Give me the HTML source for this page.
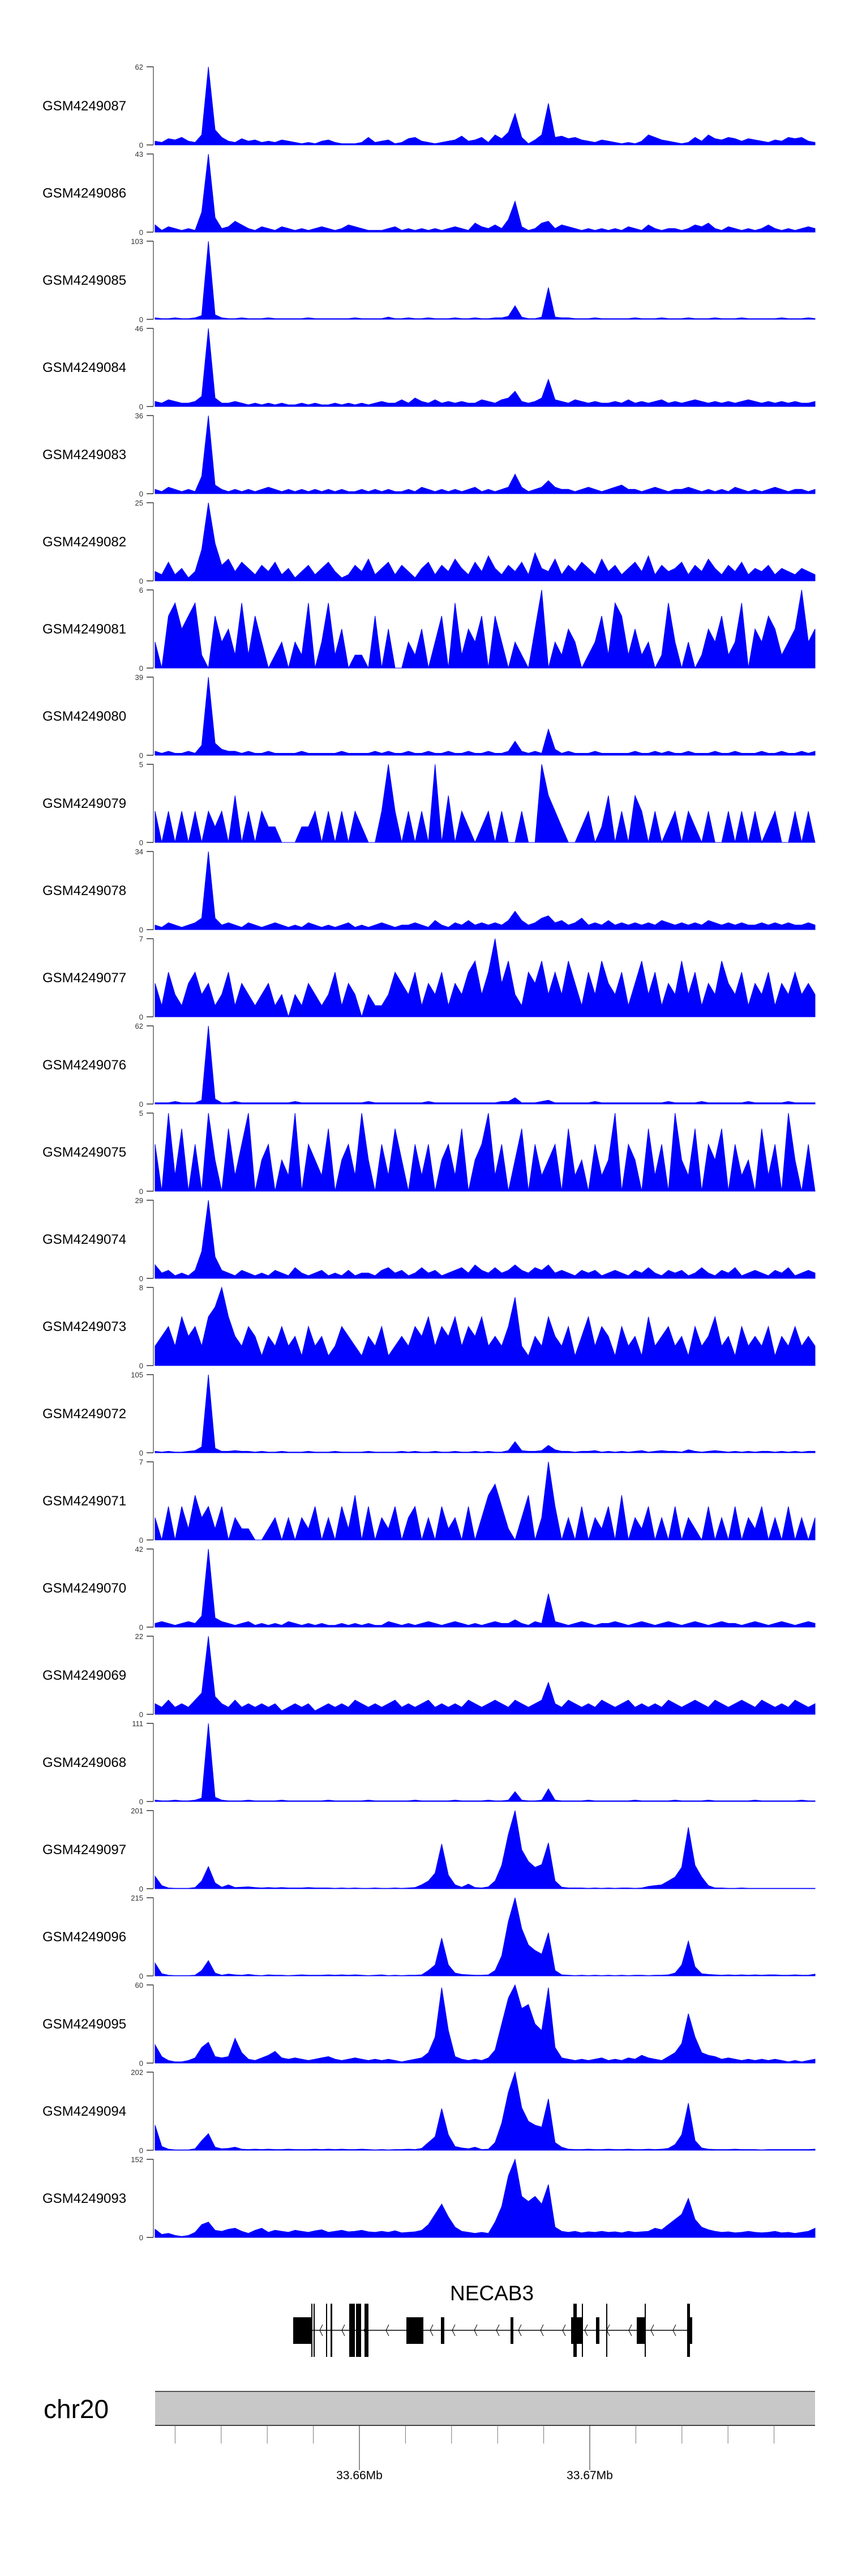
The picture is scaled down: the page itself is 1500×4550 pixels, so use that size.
<!DOCTYPE html>
<html><head><meta charset="utf-8"><style>
html,body{margin:0;padding:0;background:#fff;}
svg{display:block;font-family:"Liberation Sans",sans-serif;}
</style></head><body>
<svg id="chart" width="1500" height="4550" viewBox="0 0 1500 4550" xmlns="http://www.w3.org/2000/svg">
<g id="tracks"></g>
<g id="gene">
  <text x="869" y="4063" font-size="37" text-anchor="middle">NECAB3</text>
</g>
<g id="ideo">
  <text x="77" y="4271" font-size="46">chr20</text>
  <rect x="274" y="4224" width="1166" height="60" fill="#c8c8c8"/>
  <line x1="274" y1="4224" x2="1440" y2="4224" stroke="#555" stroke-width="2"/>
  <line x1="274" y1="4284" x2="1440" y2="4284" stroke="#444" stroke-width="2"/>
</g>
</svg>
<script>
const trackNames = ["GSM4249087","GSM4249086","GSM4249085","GSM4249084","GSM4249083","GSM4249082","GSM4249081","GSM4249080","GSM4249079","GSM4249078","GSM4249077","GSM4249076","GSM4249075","GSM4249074","GSM4249073","GSM4249072","GSM4249071","GSM4249070","GSM4249069","GSM4249068","GSM4249097","GSM4249096","GSM4249095","GSM4249094","GSM4249093"];
const trackMax = [62,43,103,46,36,25,6,39,5,34,7,62,5,29,8,105,7,42,22,111,201,215,60,202,152];
const s087 = [3,2,5,4,6,3,2,8,62,12,6,3,2,5,3,4,2,3,2,4,3,2,1,2,1,3,4,2,1,1,1,2,6,2,3,4,1,2,5,6,3,2,1,2,3,4,7,3,4,6,2,8,5,10,25,6,1,4,8,33,6,7,5,6,4,3,2,4,3,2,1,2,1,3,8,6,4,3,2,1,2,6,3,8,5,4,6,5,3,5,4,3,2,4,3,6,5,6,3,2];
const s086 = [4,1,3,2,1,2,1,11,43,8,2,3,6,4,2,1,3,2,1,3,2,1,2,1,2,3,2,1,2,4,3,2,1,1,1,2,3,1,2,1,2,1,2,1,2,3,2,1,5,3,2,4,2,7,17,3,1,2,5,6,2,4,3,2,1,2,1,2,1,2,1,3,2,1,4,2,1,2,2,1,2,4,3,5,2,1,3,2,1,2,1,2,4,2,1,2,1,2,3,2];
const s085 = [2,1,1,2,1,1,2,5,103,6,2,1,1,2,1,1,1,2,1,1,1,1,1,2,1,1,1,1,1,1,2,1,1,1,1,3,1,1,2,1,1,2,1,1,1,2,1,1,2,1,1,2,2,4,18,3,1,1,3,42,3,2,2,1,1,1,2,1,1,1,1,1,2,1,1,1,2,1,1,1,2,1,1,1,2,1,1,1,2,1,1,1,1,1,2,1,1,1,2,1];
const s084 = [3,2,4,3,2,2,3,6,46,5,2,2,3,2,1,2,1,2,1,2,1,1,2,1,2,1,1,2,1,2,1,2,1,2,3,2,2,4,2,5,3,2,4,2,3,2,3,2,2,4,3,2,4,5,9,3,2,3,5,16,4,3,2,4,3,2,3,2,2,3,2,4,2,3,2,3,4,2,3,2,3,4,3,2,3,2,3,2,3,4,3,2,3,2,3,2,3,2,2,3];
const s083 = [2,1,3,2,1,2,1,8,36,4,2,1,2,1,2,1,2,3,2,1,2,1,2,1,2,1,2,1,2,1,1,2,1,2,1,2,1,1,2,1,3,2,1,2,1,2,1,2,3,1,2,1,2,3,9,3,1,2,3,6,3,2,2,1,2,3,2,1,2,3,4,2,2,1,2,3,2,1,2,2,3,2,1,2,1,2,1,3,2,1,2,1,2,3,2,1,2,2,1,2];
const s082 = [3,2,6,2,4,1,3,10,25,12,5,7,3,6,4,2,5,3,6,2,4,1,3,5,2,4,6,3,1,2,5,3,7,2,4,6,2,5,3,1,4,6,2,5,3,7,4,2,6,3,8,4,2,5,3,6,2,9,4,3,7,2,5,3,6,4,2,7,3,5,2,4,6,3,8,2,5,3,4,6,2,5,3,7,4,2,5,3,6,2,4,3,5,2,4,3,2,4,3,2];
const s081 = [2,0,4,5,3,4,5,1,0,4,2,3,1,5,1,4,2,0,1,2,0,2,1,5,0,2,5,1,3,0,1,1,0,4,0,3,0,0,2,1,3,0,2,4,0,5,1,3,2,4,0,4,2,0,2,1,0,3,6,0,2,1,3,2,0,1,2,4,1,5,4,1,3,1,2,0,1,5,2,0,2,0,1,3,2,4,1,2,5,0,3,2,4,3,1,2,3,6,2,3];
const s080 = [2,1,2,1,1,2,1,5,39,6,3,2,2,1,2,1,1,2,1,1,1,1,2,1,1,1,1,1,2,1,1,1,1,2,1,2,1,1,2,1,1,2,1,1,2,1,1,2,1,1,2,1,1,2,7,2,1,2,1,13,3,1,2,1,1,1,2,1,1,1,1,1,2,1,1,2,1,2,1,1,2,1,1,1,2,1,1,2,1,1,1,2,1,1,2,1,1,2,1,2];
const s079 = [2,0,2,0,2,0,2,0,2,1,2,0,3,0,2,0,2,1,1,0,0,0,1,1,2,0,2,0,2,0,2,1,0,0,2,5,2,0,2,0,2,0,5,0,3,0,2,1,0,1,2,0,2,0,0,2,0,0,5,3,2,1,0,0,1,2,0,1,3,0,2,0,3,2,0,2,0,1,2,0,2,1,0,2,0,0,2,0,2,0,2,0,1,2,0,0,2,0,2,0];
const s078 = [2,1,3,2,1,2,3,5,34,5,2,3,2,1,3,2,1,2,3,2,1,2,1,3,2,1,2,1,2,3,1,2,1,2,3,2,1,2,2,3,2,1,4,2,1,3,2,4,2,3,2,3,2,4,8,4,2,3,5,6,3,4,2,3,5,2,3,2,4,2,3,2,3,2,3,2,4,3,2,3,2,3,2,4,3,2,3,2,3,2,2,3,2,3,2,3,2,2,3,2];
const s077 = [3,1,4,2,1,3,4,2,3,1,2,4,1,3,2,1,2,3,1,2,0,2,1,3,2,1,2,4,1,3,2,0,2,1,1,2,4,3,2,4,1,3,2,4,1,3,2,4,5,2,4,7,3,5,2,1,4,3,5,2,4,2,5,3,1,4,2,5,3,2,4,1,3,5,2,4,1,3,2,5,2,4,1,3,2,5,3,2,4,1,3,2,4,1,3,2,4,2,3,2];
const s076 = [1,1,1,2,1,1,1,3,62,4,1,1,2,1,1,1,1,1,1,1,1,2,1,1,1,1,1,1,1,1,1,1,2,1,1,1,1,1,1,1,1,2,1,1,1,1,1,1,1,1,1,1,2,2,5,1,1,1,2,3,1,1,1,1,1,1,2,1,1,1,1,1,1,1,1,1,1,2,1,1,1,1,2,1,1,1,1,1,1,2,1,1,1,1,1,2,1,1,1,1];
const s075 = [3,0,5,1,4,0,3,0,5,2,0,4,1,3,5,0,2,3,0,2,1,5,0,3,2,1,4,0,2,3,1,5,2,0,3,1,4,2,0,3,1,3,0,2,3,1,4,0,2,3,5,1,3,0,2,4,0,3,1,2,3,0,4,1,2,0,3,1,2,5,0,3,2,0,4,1,3,0,5,2,1,4,0,3,2,4,0,3,1,2,0,4,1,3,0,5,2,0,3,0];
const s074 = [5,2,3,1,2,1,3,10,29,8,3,2,1,3,2,1,2,1,3,2,1,4,2,1,2,3,1,2,1,3,1,2,2,1,3,4,2,3,1,2,4,2,3,1,2,3,4,2,5,3,2,4,2,3,5,3,2,4,3,5,2,3,2,1,3,2,3,1,2,3,2,1,3,2,4,2,1,3,2,3,1,2,4,2,1,3,2,4,1,2,3,2,1,3,2,4,1,2,3,2];
const s073 = [2,3,4,2,5,3,4,2,5,6,8,5,3,2,4,3,1,3,2,4,2,3,1,4,2,3,1,2,4,3,2,1,3,2,4,1,2,3,2,4,3,5,2,4,3,5,2,4,3,5,2,3,2,4,7,2,1,3,2,5,3,2,4,1,3,5,2,4,3,1,4,2,3,1,5,2,3,4,2,3,1,4,2,3,5,2,3,1,4,2,3,2,4,1,3,2,4,2,3,2];
const s072 = [2,1,2,1,1,2,3,8,105,6,2,2,3,2,2,1,2,1,1,2,1,1,1,2,1,1,1,2,1,1,1,1,2,1,1,1,1,2,1,2,1,1,2,1,1,2,1,1,2,1,2,1,1,3,15,3,2,2,3,10,4,2,2,1,2,2,3,1,2,1,2,1,2,3,1,2,3,2,2,1,4,2,1,2,3,2,1,2,1,2,1,2,2,1,2,1,2,1,2,2];
const s071 = [2,0,3,0,3,1,4,2,3,1,3,0,2,1,1,0,0,1,2,0,2,0,2,1,3,0,2,0,3,1,4,0,3,0,2,1,3,0,2,3,0,2,0,3,1,2,0,3,0,2,4,5,3,1,0,2,4,0,2,7,3,0,2,0,3,0,2,1,3,0,4,0,2,1,3,0,2,0,3,0,2,1,0,3,0,2,0,3,0,2,1,3,0,2,0,3,0,2,0,2];
const s070 = [2,3,2,1,2,3,2,6,42,5,3,2,1,2,3,1,2,1,2,1,3,2,1,2,1,2,1,1,2,1,2,1,2,1,1,3,2,1,2,1,2,3,2,1,2,3,2,1,2,1,2,3,2,2,4,2,1,3,2,18,3,2,1,2,3,2,1,2,2,3,2,1,2,3,2,1,2,3,2,1,2,3,2,1,2,3,2,2,1,2,3,2,1,2,3,2,1,2,3,2];
const s069 = [3,2,4,2,3,2,4,6,22,5,3,2,4,2,3,2,3,2,3,1,2,3,2,3,1,2,3,2,3,2,4,3,2,3,2,3,4,2,3,2,3,4,2,3,2,3,2,4,3,2,3,4,3,2,4,3,2,3,4,9,3,2,4,3,2,3,2,4,3,2,3,4,2,3,2,3,2,4,3,2,3,4,3,2,4,3,2,3,4,3,2,4,3,2,3,2,4,3,2,3];
const s068 = [2,1,1,2,1,1,2,5,111,6,2,1,1,1,2,1,1,1,1,2,1,1,1,1,1,1,2,1,1,1,1,1,2,1,1,1,1,1,1,2,1,1,1,1,1,2,1,1,1,1,2,1,1,2,14,2,1,1,2,18,2,1,1,1,1,2,1,1,1,1,1,1,2,1,1,1,1,1,2,1,1,1,1,2,1,1,1,1,1,1,2,1,1,1,1,1,1,2,1,1];
const s097 = [32,8,2,1,1,1,3,20,57,15, 4,10,3,4,5,3,2,3,2,3, 2,2,2,3,2,2,2,1,2,1, 2,1,1,2,1,1,2,1,2,3, 10,20,40,115,35,10,4,12,3,2, 5,20,60,140,201,100,70,55,62,118, 20,4,2,2,2,1,2,1,2,1, 2,2,1,2,6,8,10,20,30,55, 158,60,30,8,2,2,1,1,2,1, 1,1,1,1,1,1,1,1,1,1];
const s096 = [35,6,2,1,1,1,2,15,42,8, 2,5,3,2,4,2,1,3,2,2, 1,2,3,2,2,2,3,2,3,2, 3,2,1,2,3,1,2,1,2,2, 3,15,30,104,30,8,4,3,2,2, 3,15,55,150,215,130,85,70,60,119, 15,3,2,1,2,1,2,1,2,1, 2,1,2,2,1,2,2,3,8,30, 96,25,6,4,3,2,3,2,3,2, 3,2,3,3,2,2,3,2,2,5];
const s095 = [14,5,2,1,1,2,4,12,16,5, 4,5,19,8,3,2,4,6,9,4, 3,4,3,2,3,4,5,3,2,3, 4,3,2,3,2,3,2,1,2,3, 4,8,20,58,25,5,3,2,3,2, 4,10,30,50,60,42,45,30,25,58, 12,4,3,2,3,2,3,4,2,3, 2,4,3,6,4,3,2,5,8,15, 38,20,8,6,5,3,4,3,2,3, 2,3,2,3,2,1,2,1,2,3];
const s094 = [65,10,3,1,1,1,4,25,43,8, 4,5,8,3,2,3,2,3,2,2, 3,2,2,2,3,2,3,2,3,2, 2,3,2,1,2,1,2,2,3,2, 5,20,35,108,40,10,6,4,8,2, 3,20,70,150,202,110,75,65,60,133, 20,8,3,2,2,3,2,2,3,2, 2,3,2,2,3,2,3,5,15,40, 122,25,6,3,2,2,2,3,2,2, 2,1,2,2,2,2,2,2,2,3];
const s093 = [16,6,8,4,2,4,10,25,30,14, 12,16,18,12,8,14,18,10,14,12, 10,14,12,10,13,15,10,12,14,11, 12,14,11,10,12,10,13,9,10,11, 14,25,45,65,40,20,12,10,8,10, 8,30,60,120,152,80,70,80,65,103, 20,12,10,12,9,11,10,12,10,11, 9,12,10,11,12,18,15,25,35,45, 76,35,20,15,12,10,11,9,10,12, 10,9,10,12,9,10,8,10,12,18];
const trackSeries = [s087,s086,s085,s084,s083,s082,s081,s080,s079,s078,s077,s076,s075,s074,s073,s072,s071,s070,s069,s068,s097,s096,s095,s094,s093];
const axisTicksKb = [33652,33654,33656,33658,33660,33662,33664,33666,33668,33670,33672,33674,33676,33678];
const majorTicksKb = [33660,33670];
const majorTickLabels = ["33.66Mb","33.67Mb"];

const NS = "http://www.w3.org/2000/svg";
const X0 = 274, X1 = 1440, TOP0 = 118, PITCH = 154, H = 138;
function mk(tag, attrs, parent){const e=document.createElementNS(NS,tag);for(const k in attrs)e.setAttribute(k,attrs[k]);parent.appendChild(e);return e;}
const tracksG = document.getElementById('tracks');
trackSeries.forEach((vals, t) => {
  const top = TOP0 + t*PITCH, base = top + H, mx = trackMax[t];
  const g = mk('g', {}, tracksG);
  
  
  const xs = i => X0 + i*(X1-X0)/(vals.length-1);
  const ys = v => base - Math.min(v,mx)/mx*H;
  const lab = mk('text', {x:75, y:top+H/2+8, 'font-size':24}, g);
  lab.textContent = trackNames[t];
  
  
  const ax = mk('line', {x1:271, y1:top, x2:271, y2:base, stroke:'#8a8a8a', 'stroke-width':2}, g);
  
  
  [[top, String(mx)], [base, '0']].forEach(([y, s]) => {
    const tk = mk('line', {x1:259, y1:y, x2:271, y2:y, stroke:'#333', 'stroke-width':1.5}, g);
    
    
    const tl = mk('text', {x:253, y:y+5, 'font-size':13, 'text-anchor':'end', fill:'#333'}, g);
    tl.textContent = s;
    
    
  });
  let d = 'M' + X0 + ',' + base;
  vals.forEach((v, i) => { d += 'L' + xs(i).toFixed(1) + ',' + ys(v).toFixed(1); });
  d += 'L' + X1 + ',' + base + 'Z';
  const p = mk('path', {d:d, fill:'#0000ff', stroke:'#0000ff', 'stroke-width':1}, g);
  
  
});

// gene model
const geneG = document.getElementById('gene');
const CY = 4116;
const intr = mk('line', {x1:550, y1:CY, x2:1218, y2:CY, stroke:'#000', 'stroke-width':1.5}, geneG);


for (let x = 565; x < 1215; x += 39) {
  const c = mk('path', {d:`M${x+5},${CY-10}L${x},${CY}L${x+5},${CY+10}`, fill:'none', stroke:'#000', 'stroke-width':1}, geneG);
  
  
}
const exons = [[518,550,0],[550,552,1],[554,556,1],[576,578,1],[584,587,1],[617,627,1],[629,638,1],[644,651,1],[718,748,0],[779,785,0],[902,907,0],[1009,1029,0],[1013,1019,1],[1028,1030,1],[1053,1059,0],[1071,1073,1],[1125,1140,0],[1139,1141,1],[1214,1219,1],[1214,1223,0]];
exons.forEach(([a,b,tall]) => {
  const r = mk('rect', {x:a, y: tall ? 4069 : 4093, width:b-a, height: tall ? 94 : 47, fill:'#000'}, geneG);
  
  
});

// genomic axis
const ideo = document.getElementById('ideo');
const kbToX = kb => 635 + (kb - 33660) * 40.7;
axisTicksKb.forEach(kb => {
  const l = mk('line', {x1:kbToX(kb), y1:4284, x2:kbToX(kb), y2:4316, stroke:'#777', 'stroke-width':1}, ideo);
  
  
});
majorTicksKb.forEach((kb, i) => {
  const l = mk('line', {x1:kbToX(kb), y1:4284, x2:kbToX(kb), y2:4363, stroke:'#222', 'stroke-width':1}, ideo);
  
  
  const t = mk('text', {x:kbToX(kb), y:4379, 'font-size':21, 'text-anchor':'middle'}, ideo);
  t.textContent = majorTickLabels[i];
  
  
});
</script>
</body></html>
